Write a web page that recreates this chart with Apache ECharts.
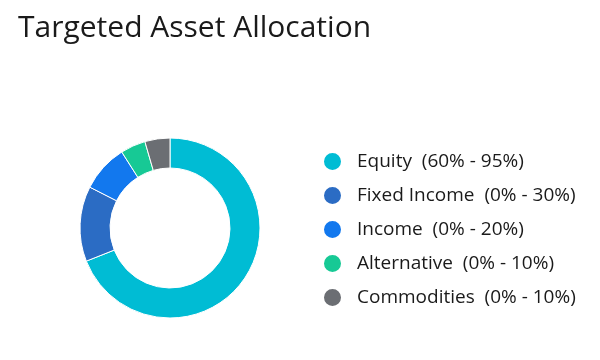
<!DOCTYPE html>
<html>
<head>
<meta charset="utf-8">
<script src="https://cdn.jsdelivr.net/npm/echarts@6/dist/echarts.min.js"></script>
<style>html,body{margin:0;padding:0;background:#fff}#c{width:600px;height:360px}</style>
</head>
<body>
<div id="c"></div>
<script>
const titleText = "Targeted Asset Allocation";
const categories = ["Equity", "Fixed Income", "Income", "Alternative", "Commodities"];
const ranges = ["(60% - 95%)", "(0% - 30%)", "(0% - 20%)", "(0% - 10%)", "(0% - 10%)"];
const values = [69, 13.5, 8.5, 4.5, 4.5];
const colors = ["#00BCD4", "#2B6CC4", "#1278EE", "#17C995", "#6B6E73"];

const chart = echarts.init(document.getElementById('c'), null, {renderer: 'canvas'});
const rangeMap = {};
categories.forEach((c, i) => rangeMap[c] = ranges[i]);
chart.setOption({
  animation: false,
  title: {
    text: titleText,
    left: 13, top: 8,
    textStyle: {fontFamily: 'Open Sans', fontSize: 30, fontWeight: 'normal', color: '#1a1a1a'}
  },
  color: colors,
  legend: {
    orient: 'vertical',
    left: 317, top: 146,
    icon: 'circle',
    itemWidth: 19, itemHeight: 19,
    itemGap: 13,
    selectedMode: false,
    formatter: name => name + '  ' + rangeMap[name],
    textStyle: {fontFamily: 'Open Sans', fontSize: 19, lineHeight: 19, color: '#1a1a1a', padding: [0, 0, 0, 10]}
  },
  series: [{
    type: 'pie',
    center: [170, 228],
    radius: [60, 90],
    startAngle: 90,
    clockwise: true,
    label: {show: false},
    labelLine: {show: false},
    emphasis: {disabled: true},
    itemStyle: {borderColor: '#ffffff', borderWidth: 1},
    data: categories.map((c, i) => ({name: c, value: values[i]}))
  }]
});
</script>
</body>
</html>
